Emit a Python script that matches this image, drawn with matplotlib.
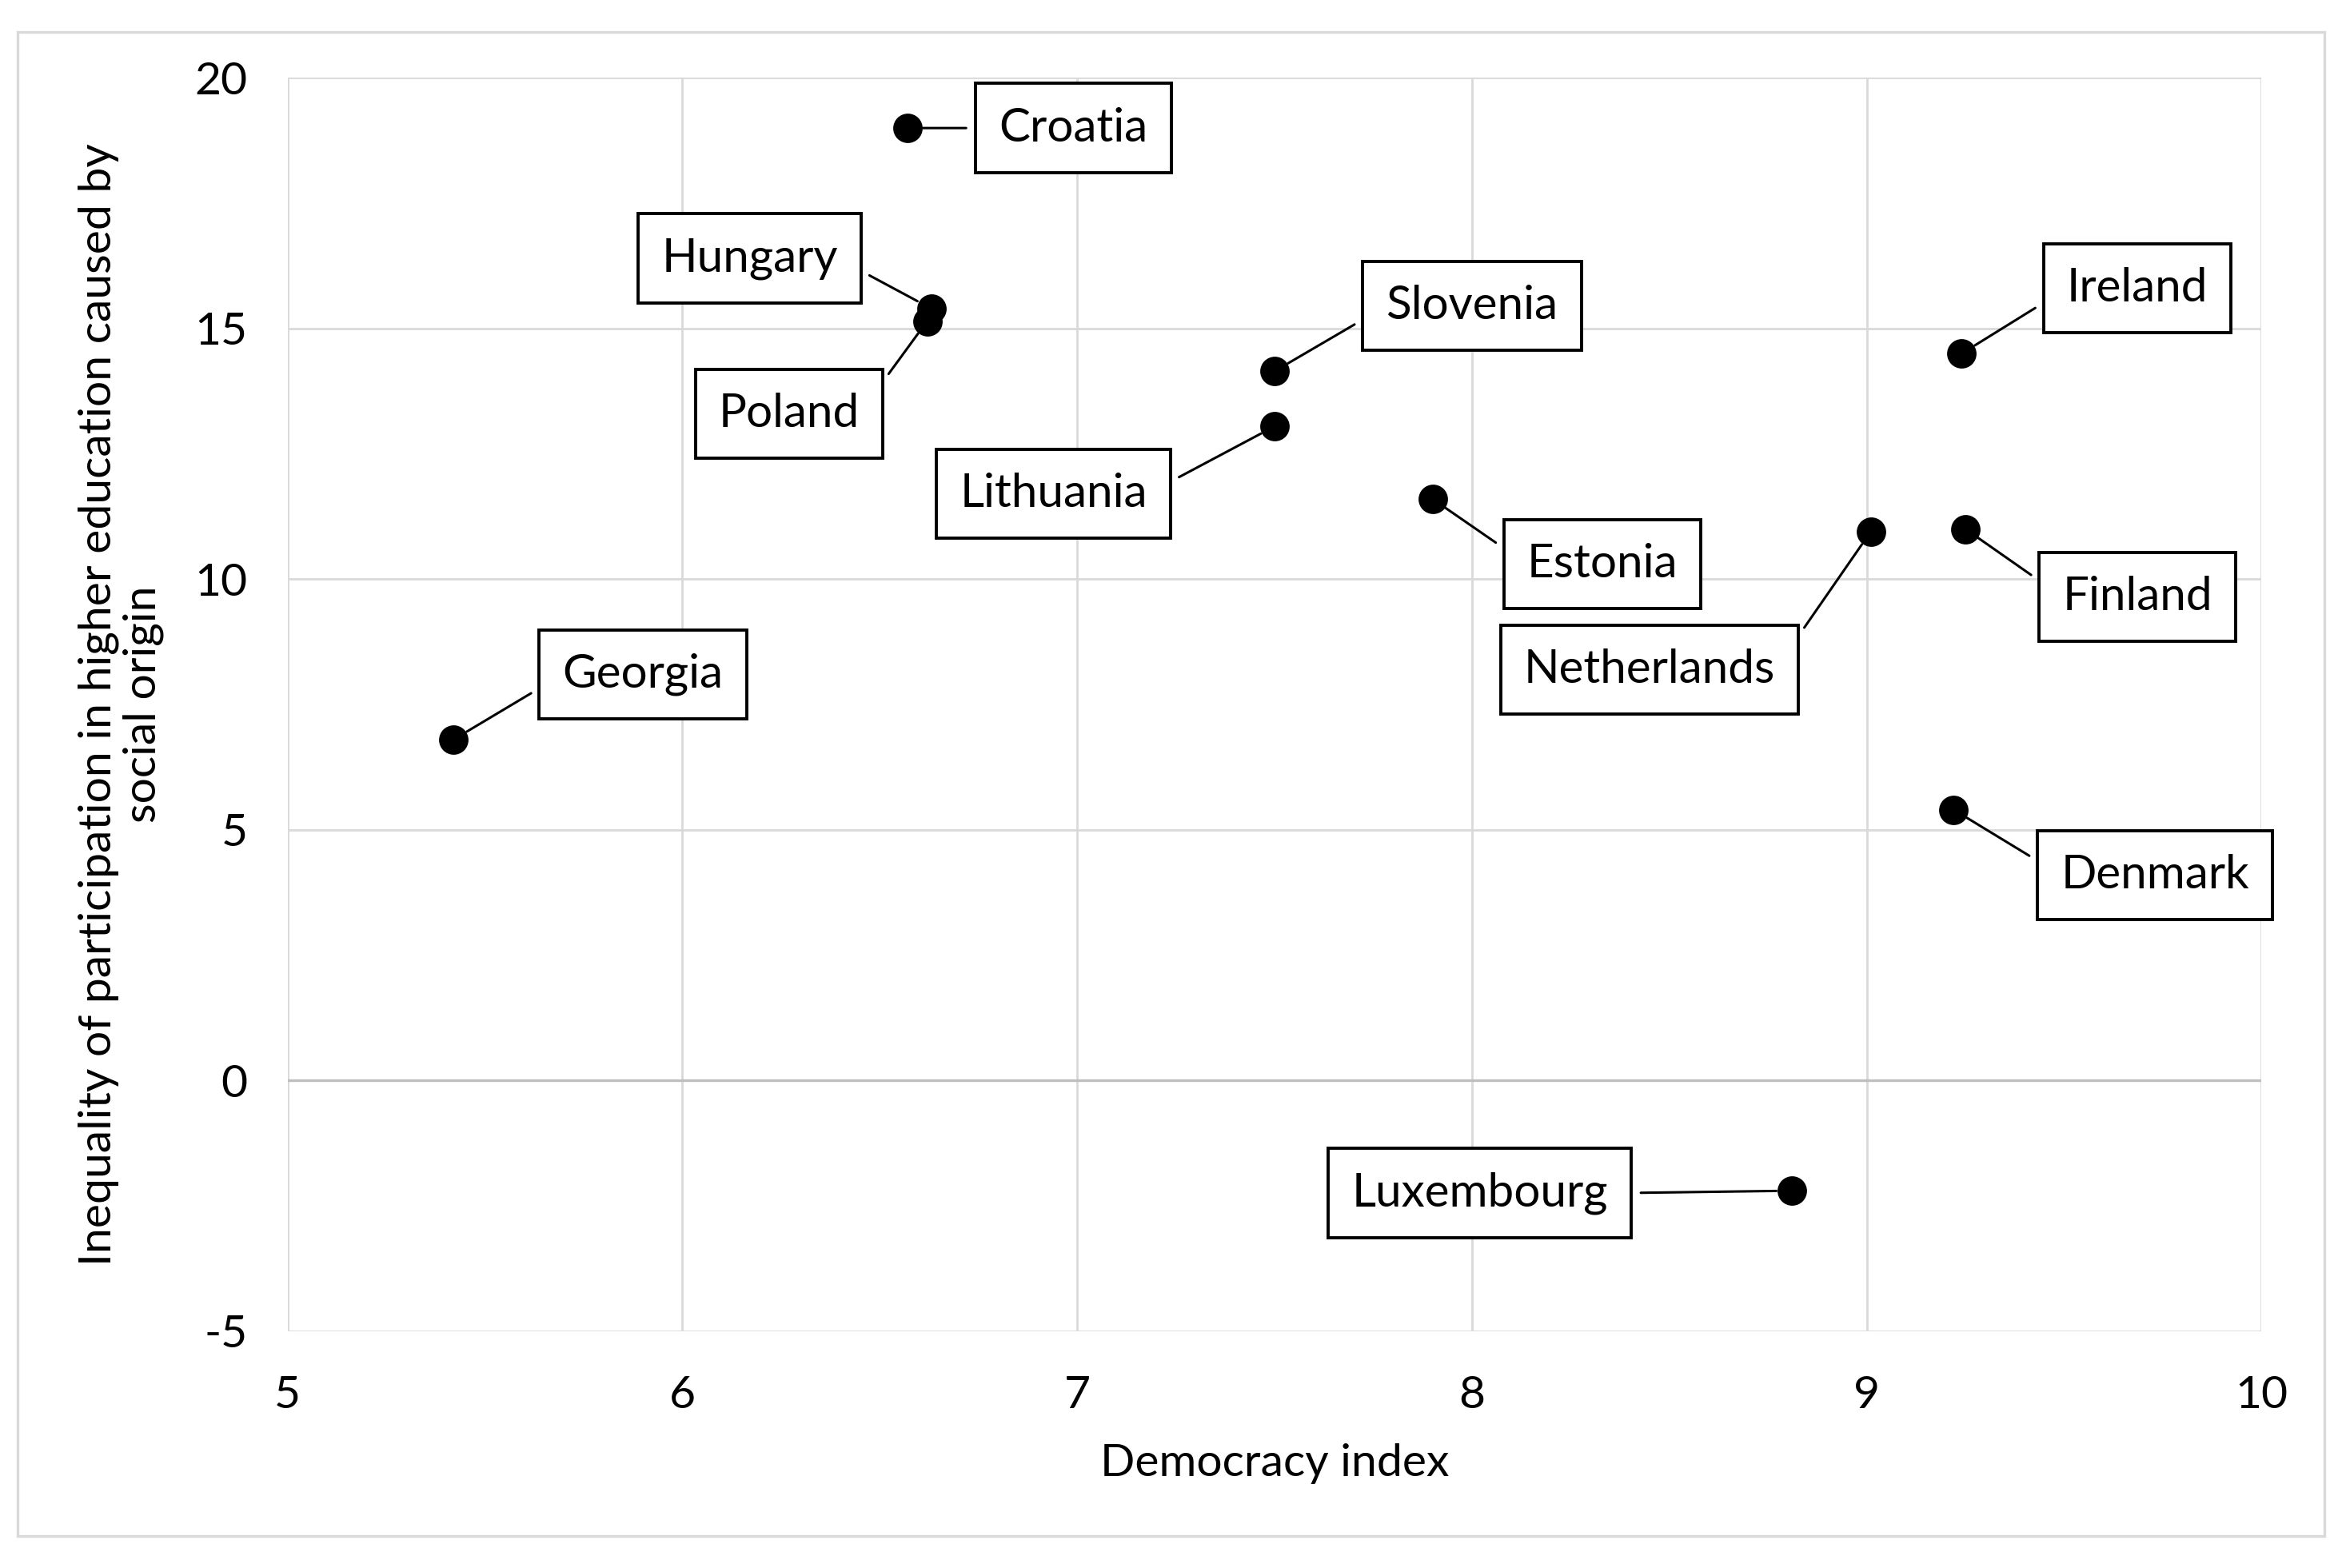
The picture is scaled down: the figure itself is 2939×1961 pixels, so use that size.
import matplotlib
matplotlib.use("Agg")
from matplotlib import pyplot as plt
from matplotlib.patches import Rectangle

plt.rcParams['font.family'] = ['Lato', 'DejaVu Sans']
plt.rcParams['axes.unicode_minus'] = False

# data
countries = ['Croatia', 'Hungary', 'Poland', 'Slovenia', 'Lithuania', 'Estonia',
             'Netherlands', 'Finland', 'Ireland', 'Denmark', 'Georgia', 'Luxembourg']
democracy = [6.57, 6.63, 6.62, 7.50, 7.50, 7.90, 9.01, 9.25, 9.24, 9.22, 5.42, 8.81]
inequality = [19.0, 15.4, 15.15, 14.15, 13.05, 11.6, 10.95, 11.0, 14.5, 5.4, 6.8, -2.2]

# where each label box sits (data coords)
label_pos = {
    'Croatia': (6.99, 19.0),
    'Hungary': (6.17, 16.4),
    'Poland': (6.27, 13.3),
    'Slovenia': (8.0, 15.45),
    'Lithuania': (6.94, 11.7),
    'Estonia': (8.33, 10.3),
    'Netherlands': (8.45, 8.2),
    'Finland': (9.685, 9.65),
    'Ireland': (9.685, 15.8),
    'Denmark': (9.73, 4.1),
    'Georgia': (5.90, 8.1),
    'Luxembourg': (8.02, -2.25),
}

fig = plt.figure(figsize=(14.695, 9.805), dpi=200)
ax = fig.add_axes([0.1224, 0.1511, 0.84, 0.7992])

# outer chart border
fig.patches.append(Rectangle((0.0075, 0.0203), 0.9815, 0.9594, transform=fig.transFigure,
                             fill=False, edgecolor='#d9d9d9', linewidth=1.2))

ax.set_xlim(5, 10)
ax.set_ylim(-5, 20)
ax.set_xticks([5, 6, 7, 8, 9, 10])
ax.set_yticks([-5, 0, 5, 10, 15, 20])
ax.grid(True, color='#d9d9d9', linewidth=1.0)
ax.set_axisbelow(True)
for s in ax.spines.values():
    s.set_visible(False)
ax.axhline(0, color='#bfbfbf', linewidth=1.2, zorder=1)
ax.tick_params(length=0, labelsize=20.5)
ax.tick_params(axis='x', pad=20)
ax.tick_params(axis='y', pad=18)

ax.scatter(democracy, inequality, s=150, color='black', zorder=3)

for name, x, y in zip(countries, democracy, inequality):
    tx, ty = label_pos[name]
    # leader line leaves the box from the side facing the point
    side = 0.0 if tx > x else 1.0
    ax.annotate(name, xy=(x, y), xytext=(tx, ty), textcoords='data',
                ha='center', va='center', fontsize=21,
                bbox=dict(boxstyle='square,pad=0.5', facecolor='white',
                          edgecolor='black', linewidth=1.4),
                arrowprops=dict(arrowstyle='-', color='black', linewidth=1.1,
                                shrinkA=4, shrinkB=7, relpos=(side, 0.5)),
                zorder=4)

ax.set_xlabel('Democracy index', fontsize=20.5, labelpad=12)
ax.set_ylabel('Inequality of participation in higher education caused by\nsocial origin',
              fontsize=20.5, labelpad=14, linespacing=1.1)

fig.savefig('out.png', dpi=200)
